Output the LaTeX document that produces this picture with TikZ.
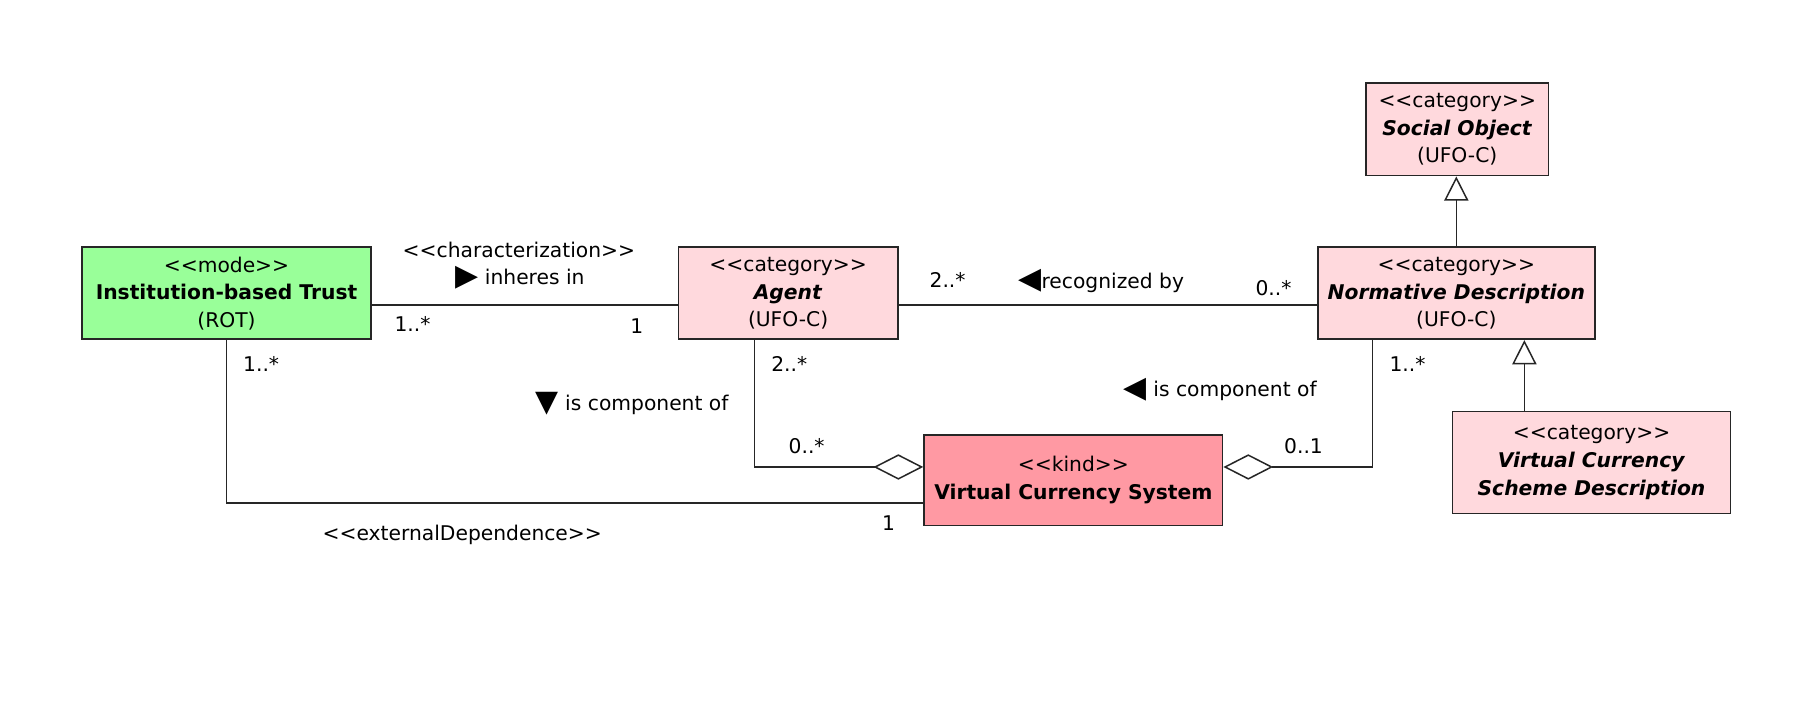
\documentclass[tikz,border=0pt]{standalone}
\usepackage{fontspec}
\setmainfont{DejaVu Sans}
\usetikzlibrary{arrows.meta}
\definecolor{modegreen}{HTML}{99FF99}
\definecolor{catpink}{HTML}{FFD9DD}
\definecolor{kindpink}{HTML}{FF99A3}
\newcommand{\tri}[1]{{\fontsize{26}{24}\selectfont\raisebox{-0.5bp}{#1}}}
\newcommand{\stl}{<{}<}
\newcommand{\str}{>{}>}
\tikzset{
  cls/.style={draw=black!85, line width=1.4bp, inner sep=0pt, align=center,
     font=\fontsize{17.6}{24}\selectfont},
  lbl/.style={inner sep=0pt, font=\fontsize{17.6}{24}\selectfont},
  conn/.style={draw=black!85, line width=1.3bp},
  gen/.style={conn, -{Triangle[open, length=21bp, width=21bp, line width=1.3bp]}},
  agg/.style={conn, -{Diamond[open, length=43bp, width=22bp, line width=1.3bp]}},
}
\begin{document}
\begin{tikzpicture}[x=1bp, y=-1bp]
\useasboundingbox (0,0) rectangle (1568,611.8);
\fill[white] (0,0) rectangle (1568,611.8);

\node[cls, fill=modegreen, minimum width=250bp, minimum height=79.6bp] (ibt) at (196,253.8)
  {\stl mode\str\\\textbf{Institution-based Trust}\\(ROT)};
\node[cls, fill=catpink, minimum width=190bp, minimum height=79.6bp] (agent) at (682,253.8)
  {\stl category\str\\\textbf{\textit{Agent}}\\(UFO-C)};
\node[cls, fill=catpink, minimum width=239.7bp, minimum height=79.6bp] (nd) at (1260.2,253.8)
  {\stl category\str\\\textbf{\textit{Normative Description}}\\(UFO-C)};
\node[cls, fill=catpink, minimum width=158bp, minimum height=80bp] (so) at (1261,112)
  {\stl category\str\\\textbf{\textit{Social Object}}\\(UFO-C)};
\node[cls, fill=catpink, minimum width=240.8bp, minimum height=88.2bp] (vcsd) at (1377.2,400.1)
  {\stl category\str\\\textbf{\textit{Virtual Currency}}\\\textbf{\textit{Scheme Description}}};
\node[cls, fill=kindpink, minimum width=258.4bp, minimum height=78.2bp] (vcs) at (928.8,415.5)
  {\stl kind\str\\\textbf{Virtual Currency System}};

% connectors
\draw[conn] ([yshift=-10.2bp]ibt.east) -- ([yshift=-10.2bp]agent.west);
\draw[conn] ([yshift=-10.2bp]agent.east) -- ([yshift=-10.2bp]nd.west);
\draw[agg] ([xshift=-29bp]agent.south) |- ([yshift=11.4bp]vcs.west);
\draw[agg] ([xshift=-72.6bp]nd.south) |- ([yshift=11.4bp]vcs.east);
\draw[conn] (ibt.south) |- ([yshift=-19.9bp]vcs.west);
\draw[gen] (nd.north) -- (nd.north |- so.south);
\draw[gen] ([xshift=-58.1bp]vcsd.north) -- ([xshift=-58.1bp]vcsd.north |- nd.south);

% labels
\node[lbl] (l1) at (449,216) {\stl characterization\str};
\node[lbl] (l2) at (450,240) {\tri{▶} inheres in};
\node[lbl] (l3) at (357,280) {1..*};
\node[lbl] (l4) at (551,282) {1};
\node[lbl] (l5) at (820,242) {2..*};
\node[lbl] (l6) at (953,243) {\tri{◀}recognized by};
\node[lbl] (l7) at (1102,249) {0..*};
\node[lbl] (l8) at (683,315) {2..*};
\node[lbl] (l9) at (698,386) {0..*};
\node[lbl] (l10) at (547,349) {\tri{▼} is component of};
\node[lbl] (l11) at (1056,337) {\tri{◀} is component of};
\node[lbl] (l12) at (1218,315) {1..*};
\node[lbl] (l13) at (1128,386) {0..1};
\node[lbl] (l14) at (226,315) {1..*};
\node[lbl] (l15) at (769,453) {1};
\node[lbl] (l16) at (400,463) {\stl externalDependence\str};
\end{tikzpicture}
\end{document}
